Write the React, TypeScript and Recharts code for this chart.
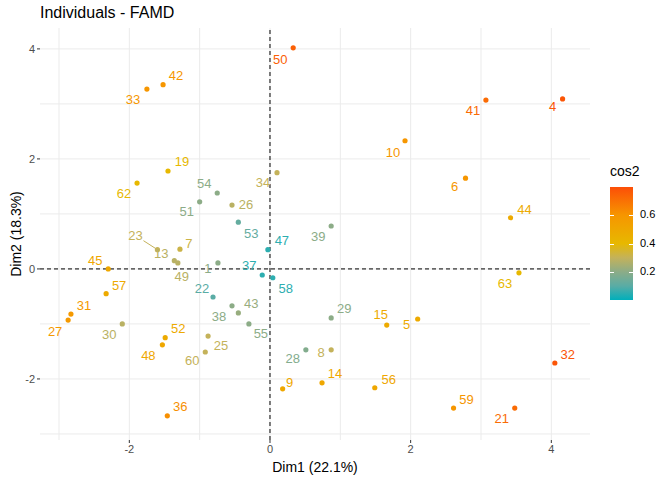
import React from 'react';
import { ScatterChart, Scatter, XAxis, YAxis, CartesianGrid, ReferenceLine } from 'recharts';

const names = ['50','42','33','41','4','10','6','44','63','34','19','62','54','51','26','53','47','39','23','7','13','49','1','45','37','58','22','57','31','27','30','38','43','55','29','52','48','25','60','28','8','15','5','14','9','56','59','21','32','36'];
const dim1 = [0.33,-1.52,-1.75,3.07,4.16,1.92,2.78,3.42,3.54,0.1,-1.45,-1.89,-0.75,-1.0,-0.54,-0.45,-0.03,0.87,-1.6,-1.28,-1.36,-1.31,-0.74,-2.3,-0.11,0.04,-0.81,-2.33,-2.83,-2.87,-2.1,-0.54,-0.45,-0.3,0.87,-1.49,-1.53,-0.88,-0.92,0.51,0.87,1.66,2.1,0.74,0.18,1.49,2.61,3.48,4.05,-1.46];
const dim2 = [4.02,3.35,3.27,3.07,3.09,2.33,1.65,0.93,-0.07,1.75,1.78,1.56,1.38,1.22,1.16,0.85,0.35,0.78,0.35,0.36,0.15,0.11,0.11,0.0,-0.11,-0.16,-0.51,-0.45,-0.82,-0.93,-1.0,-0.67,-0.8,-1.0,-0.89,-1.25,-1.38,-1.22,-1.51,-1.47,-1.47,-1.02,-0.91,-2.07,-2.18,-2.16,-2.53,-2.53,-1.71,-2.67];
const cos2 = [0.75,0.6,0.6,0.72,0.78,0.6,0.6,0.48,0.4,0.3,0.4,0.4,0.2,0.2,0.28,0.12,0.05,0.2,0.3,0.32,0.28,0.28,0.2,0.5,0.05,0.05,0.1,0.48,0.58,0.58,0.28,0.2,0.22,0.2,0.2,0.48,0.5,0.3,0.3,0.18,0.3,0.48,0.48,0.5,0.5,0.5,0.6,0.72,0.78,0.62];
const labelDx = [-13,13,-14,-13,-10,-12,-11,14,-14,-14,14,-13,-13,-13,14,13,14,-13,-22,9,-13,4,-10,-13,-13,13,-11,13,13,-13,-13,-13,13,12,13,13,-14,13,-13,-13,-10,-6,-11,13,7,14,13,-13,13,13];
const labelDy = [13,-8,12,12,9,13,9,-7,12,11,-8,11,-8,11,0,12,-8,12,-13,-5,-6,15,7,-7,-8,12,-7,-7,-7,12,12,12,-8,11,-8,-8,12,11,10,10,4,-9,7,-8,-5,-7,-8,11,-7,-8];
const xTicks = [-2, 0, 2, 4];
const yTicks = [-2, 0, 2, 4];
const gridVals = [-3, -2, -1, 0, 1, 2, 3, 4];

const data = names.map((n, i) => ({ name: n, x: dim1[i], y: dim2[i], cos2: cos2[i], dx: labelDx[i], dy: labelDy[i] }));

const stops: [number, number[]][] = [
  [0, [0, 175, 187]], [0.1, [90, 172, 165]], [0.2, [140, 172, 135]], [0.3, [196, 178, 90]],
  [0.4, [231, 184, 0]], [0.6, [246, 150, 0]], [0.8, [252, 78, 7]],
];
function colorFor(v: number) {
  const c = Math.max(0, Math.min(0.8, v));
  for (let i = 0; i < stops.length - 1; i++) {
    const [a, ca] = stops[i];
    const [b, cb] = stops[i + 1];
    if (c <= b) {
      const t = (c - a) / (b - a);
      const m = ca.map((q, k) => Math.round(q + (cb[k] - q) * t));
      return `rgb(${m[0]},${m[1]},${m[2]})`;
    }
  }
  return 'rgb(252,78,7)';
}
const gradCss = 'linear-gradient(to top, ' + stops.map(([s, c]) => `rgb(${c.join(',')}) ${(s / 0.8) * 100}%`).join(', ') + ')';

const Dot = (p: any) => {
  const col = colorFor(p.payload.cos2);
  const lx = p.cx + p.payload.dx;
  const ly = p.cy + p.payload.dy;
  const far = Math.abs(p.payload.dx) > 18;
  return (
    <g>
      {far && <line x1={p.cx} y1={p.cy} x2={lx + 8} y2={ly + 4} stroke={col} strokeWidth={1} />}
      <circle cx={p.cx} cy={p.cy} r={2.6} fill={col} />
      <text x={lx} y={ly} fill={col} fontSize={13} textAnchor="middle" dominantBaseline="middle">{p.payload.name}</text>
    </g>
  );
};

export default function App() {
  return (
    <div style={{ position: 'absolute', left: 0, top: 0, width: 672, height: 480, background: '#fff', fontFamily: 'Liberation Sans, Arial, sans-serif' }}>
      <div style={{ position: 'absolute', left: 40, top: 4, fontSize: 16, color: '#000' }}>Individuals - FAMD</div>
      <ScatterChart width={672} height={480} margin={{ top: 28, right: 82, bottom: 0, left: 0 }}>
        <CartesianGrid stroke="#ebebeb" verticalValues={gridVals} horizontalValues={gridVals} />
        <XAxis type="number" dataKey="x" domain={[-3.27, 4.55]} ticks={xTicks} allowDataOverflow height={40} tick={{ fontSize: 11, fill: '#4d4d4d' }} axisLine={false} tickLine={{ stroke: '#333' }} tickSize={3}
          label={{ value: 'Dim1 (22.1%)', position: 'insideBottom', offset: 8, fontSize: 14, fill: '#000' }} />
        <YAxis type="number" dataKey="y" domain={[-3.11, 4.38]} ticks={yTicks} allowDataOverflow width={40} tick={{ fontSize: 11, fill: '#4d4d4d' }} axisLine={false} tickLine={{ stroke: '#333' }} tickSize={3}
          label={{ value: 'Dim2 (18.3%)', angle: -90, position: 'insideLeft', offset: 16, fontSize: 14, fill: '#000', style: { textAnchor: 'middle' } }} />
        <ReferenceLine x={0} stroke="#000" strokeDasharray="4 3" />
        <ReferenceLine y={0} stroke="#000" strokeDasharray="4 3" />
        <Scatter data={data} shape={<Dot />} isAnimationActive={false} />
      </ScatterChart>
      <div style={{ position: 'absolute', left: 610, top: 163, fontSize: 14 }}>cos2</div>
      <div style={{ position: 'absolute', left: 610, top: 187, width: 23, height: 113, background: gradCss }} />
      {[0.2, 0.4, 0.6].map(v => (
        <React.Fragment key={v}>
          <div style={{ position: 'absolute', left: 610, top: 300 - v / 0.8 * 113, width: 4, height: 1, background: '#fff' }} />
          <div style={{ position: 'absolute', left: 629, top: 300 - v / 0.8 * 113, width: 4, height: 1, background: '#fff' }} />
          <div style={{ position: 'absolute', left: 640, top: 300 - v / 0.8 * 113 - 7, fontSize: 11, color: '#000' }}>{v}</div>
        </React.Fragment>
      ))}
    </div>
  );
}
